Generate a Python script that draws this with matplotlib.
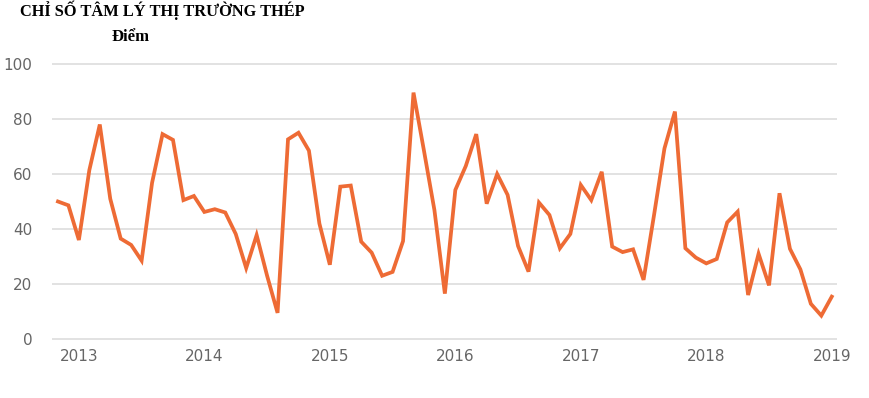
import matplotlib
matplotlib.use("Agg")
import matplotlib.pyplot as plt
import numpy as np

# Monthly index, Nov 2012 .. Jan 2019
months = [f"{y}-{m:02d}" for y in range(2012, 2020) for m in range(1, 13)]
months = months[10:10 + 75]
values = [
    50.0, 48.6,
    36.0, 61.4, 78.0, 51.0, 36.5, 34.2, 28.5, 56.8, 74.5, 72.4, 50.5, 52.0,
    46.2, 47.2, 46.0, 38.2, 25.8, 37.8, 23.0, 9.5, 72.6, 75.0, 68.5, 42.0,
    27.0, 55.4, 55.8, 35.4, 31.4, 23.0, 24.4, 35.6, 89.6, 68.5, 46.9, 16.5,
    54.2, 62.9, 74.5, 49.2, 60.0, 52.4, 33.8, 24.5, 49.6, 45.1, 33.0, 38.2,
    56.0, 50.5, 60.8, 33.6, 31.6, 32.6, 21.5, 45.0, 69.3, 82.7, 33.0, 29.6,
    27.5, 29.1, 42.4, 46.3, 16.0, 31.0, 19.5, 53.0, 32.8, 25.3, 12.8, 8.5,
    15.4,
]
year_labels = ["2013", "2014", "2015", "2016", "2017", "2018", "2019"]
yticks = [0, 20, 40, 60, 80, 100]
title = "CHỈ SỐ TÂM LÝ THỊ TRƯỜNG THÉP"
unit = "Điểm"

x = np.arange(len(values))
year_pos = [months.index(f"{y}-01") for y in year_labels]

fig = plt.figure(figsize=(8.69, 3.98), dpi=100)
H = 398.0
W = 869.0
left = 52 / W
right = 837 / W
bottom = 1 - 344.5 / H
top = 1 - 58.5 / H
ax = fig.add_axes([left, bottom, right - left, top - bottom])

ax.plot(x, values, color="#EE6B35", lw=2.7, solid_joinstyle="miter", zorder=3)

ax.set_xlim(-0.57, 74.5)
ax.set_ylim(-2, 102)
ax.set_yticks(yticks)
ax.set_yticklabels([str(t) for t in yticks])
ax.set_xticks(year_pos)
ax.set_xticklabels(year_labels)
ax.yaxis.grid(True, color="#DDDDDD", lw=1.2)
ax.set_axisbelow(True)
for s in ax.spines.values():
    s.set_visible(False)
ax.tick_params(axis="both", length=0, colors="#666666", labelsize=11)
ax.tick_params(axis="y", pad=14)
ax.tick_params(axis="x", pad=3)

fig.text(20 / W, 1 - 10 / H, title, family="Liberation Serif", weight="bold",
         fontsize=11.8, ha="left", va="center", color="black")
fig.text(131 / W, 1 - 37 / H, unit, family="Liberation Serif", weight="bold",
         fontsize=12, ha="center", va="center", color="black")

fig.savefig("out.png", dpi=100, facecolor="white")
